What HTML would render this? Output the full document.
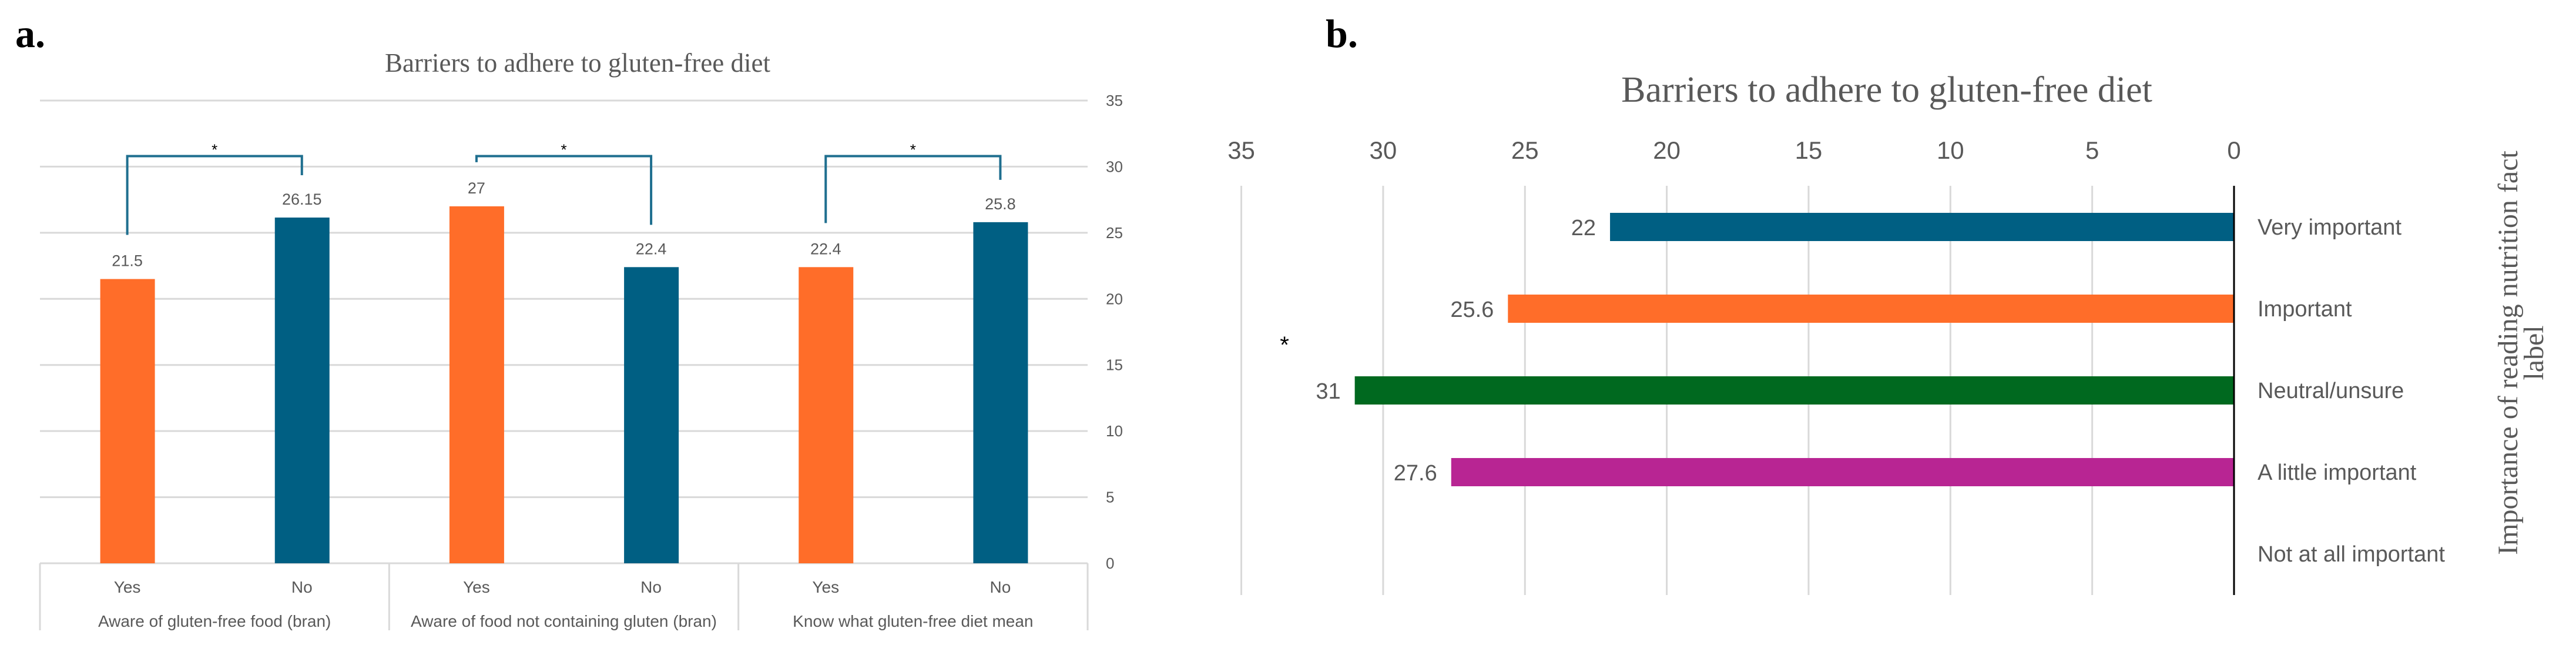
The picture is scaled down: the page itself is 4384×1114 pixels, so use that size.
<!DOCTYPE html>
<html><head><meta charset="utf-8"><style>
html,body{margin:0;padding:0;background:#fff;width:4384px;height:1114px;overflow:hidden}
svg{display:block}
.n{font-family:"Liberation Sans Narrow","Liberation Sans",sans-serif;fill:#595959}
.s{font-family:"Liberation Serif",serif}
</style></head><body>
<svg id="c" width="4384" height="1114" viewBox="0 0 4384 1114">
<text x="26" y="80" class="s" font-size="68" font-weight="bold" fill="#000">a.</text>
<text x="983" y="122" class="s" font-size="45" fill="#595959" text-anchor="middle">Barriers to adhere to gluten-free diet</text>
<text x="2256" y="80" class="s" font-size="68" font-weight="bold" fill="#000">b.</text>
<text x="3211" y="173" class="s" font-size="62" fill="#595959" text-anchor="middle">Barriers to adhere to gluten-free diet</text>
<g id="a"></g>
<g id="b"></g>
</svg>
<script>
// Chart a data
const aGroups=["Aware of gluten-free food (bran)","Aware of food not containing gluten (bran)","Know what gluten-free diet mean"];
const aSubs=["Yes","No","Yes","No","Yes","No"];
const aValues=[21.5,26.15,27,22.4,22.4,25.8];
const aLabels=["21.5","26.15","27","22.4","22.4","25.8"];
const aTicks=[0,5,10,15,20,25,30,35];
// Chart b data
const bCats=["Very important","Important","Neutral/unsure","A little important","Not at all important"];
const bValues=[22,25.6,31,27.6,null];
const bLabels=["22","25.6","31","27.6",""];
const bTicks=[0,5,10,15,20,25,30,35];

const NS="http://www.w3.org/2000/svg";
function mk(p,t,at,txt){const e=document.createElementNS(NS,t);for(const k in at)e.setAttribute(k,at[k]);if(txt!==undefined)e.textContent=txt;p.appendChild(e);return e;}

// ---- Chart a
const ga=document.getElementById('a');
const aL=68,aR=1851,aY0=958,aY35=171;
const ay=v=>aY0-(aY0-aY35)*v/35;
const gw=(aR-aL)/aGroups.length;
const ax=i=>aL+gw*Math.floor(i/2)+gw*(i%2===0?0.25:0.75);
aTicks.forEach(t=>{
  const l=mk(ga,'line',{x1:aL,x2:aR,y1:ay(t),y2:ay(t),stroke:'#d9d9d9','stroke-width':3});
  
  
  const tx=mk(ga,'text',{x:1882,y:ay(t)+9,class:'n','font-size':26},String(t));
  
  
});
for(let g=0;g<=aGroups.length;g++){
  const l=mk(ga,'line',{x1:aL+gw*g,x2:aL+gw*g,y1:aY0,y2:1072,stroke:'#d9d9d9','stroke-width':3});
  
  
}
aGroups.forEach((g,i)=>{
  const t=mk(ga,'text',{x:aL+gw*(i+0.5),y:1066,class:'n','font-size':28,'text-anchor':'middle'},g);
  
  
});
aValues.forEach((v,i)=>{
  const c=i%2===0?'#ff6d29':'#005f83';
  const r=mk(ga,'rect',{x:ax(i)-46,y:ay(v),width:93,height:aY0-ay(v),fill:c});
  
  
  const t=mk(ga,'text',{x:ax(i),y:ay(v)-22,class:'n','font-size':27,'text-anchor':'middle'},aLabels[i]);
  
  
  const s=mk(ga,'text',{x:ax(i),y:1008,class:'n','font-size':28,'text-anchor':'middle'},aSubs[i]);
  
  
});
// significance brackets
for(let g=0;g<3;g++){
  const i1=2*g,i2=2*g+1;
  const top=ay(30.8);
  const p=mk(ga,'polyline',{points:`${ax(i1)},${ay(aValues[i1])-75} ${ax(i1)},${top} ${ax(i2)},${top} ${ax(i2)},${ay(aValues[i2])-72}`,fill:'none',stroke:'#1f6f8f','stroke-width':4});
  
  
  const t=mk(ga,'text',{x:(ax(i1)+ax(i2))/2,y:top-2,'font-family':'Liberation Sans, sans-serif','font-size':26,'text-anchor':'middle',fill:'#000'},'*');
  
  
}

// ---- Chart b
const gb=document.getElementById('b');
const bX0=3802,bPer=48.27,bTop=316,bBot=1012;
const bx=v=>bX0-bPer*v;
const bStep=139,bFirst=386;
const by=i=>bFirst+bStep*i;
bTicks.forEach(t=>{
  if(t>0){
    const l=mk(gb,'line',{x1:bx(t),x2:bx(t),y1:bTop,y2:bBot,stroke:'#d9d9d9','stroke-width':3});
    
    
  }
  const tx=mk(gb,'text',{x:bx(t),y:270,class:'n','font-size':42,'text-anchor':'middle'},String(t));
  
  
});
const bColors=['#005f83','#ff6d29','#00691f','#b82593','#888'];
bCats.forEach((c,i)=>{
  if(bValues[i]!==null){
    const r=mk(gb,'rect',{x:bx(bValues[i]),y:by(i)-24,width:bX0-bx(bValues[i]),height:48,fill:bColors[i]});
    
    
    const t=mk(gb,'text',{x:bx(bValues[i])-24,y:by(i)+14,class:'n','font-size':38,'text-anchor':'end',fill:'#333'},bLabels[i]);
    
    
  }
  const t=mk(gb,'text',{x:3842,y:by(i)+13,class:'n','font-size':38},c);
  
  
});
const ax0=mk(gb,'line',{x1:bX0,x2:bX0,y1:bTop,y2:bBot,stroke:'#000','stroke-width':3});


const st=mk(gb,'text',{x:2186,y:600,'font-family':'Liberation Sans, sans-serif','font-size':40,'text-anchor':'middle',fill:'#000'},'*');


const yt=mk(gb,'text',{transform:'translate(4284,600) rotate(-90)',class:'s','font-size':48,fill:'#595959','text-anchor':'middle'});


mk(yt,'tspan',{x:0,y:0},'Importance of reading nutrition fact');
mk(yt,'tspan',{x:0,y:44},'label');
</script>
</body></html>
